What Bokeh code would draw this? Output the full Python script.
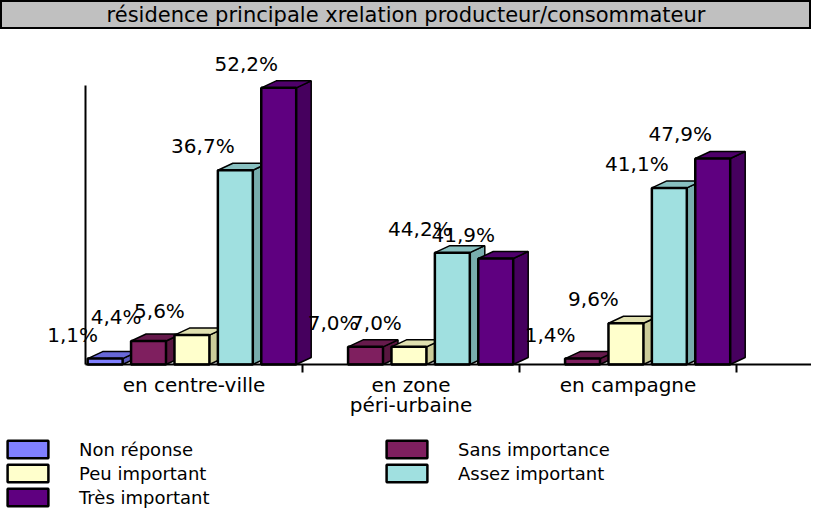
from bokeh.plotting import figure
from bokeh.models import ColumnDataSource, FixedTicker, Legend, LegendItem, Label, Range1d
from bokeh.layouts import column
from bokeh.embed import file_html
from bokeh.resources import INLINE
from bokeh.core.properties import value

FONT = "DejaVu Sans"

# ---------------- data ----------------
title_text = "résidence principale xrelation producteur/consommateur"
categories = ["en centre-ville", "en zone\npéri-urbaine", "en campagne"]
series = ["Non réponse", "Sans importance", "Peu important", "Assez important", "Très important"]

# bar heights (number of answers) per category
non_reponse = [1, 0, 0]
sans_importance = [4, 3, 1]
peu_important = [5, 3, 7]
assez_important = [33, 19, 30]
tres_important = [47, 18, 35]

# percentage labels shown above the bars
lbl_non_reponse = ["1,1%", "", ""]
lbl_sans_importance = ["4,4%", "7,0%", "1,4%"]
lbl_peu_important = ["5,6%", "7,0%", "9,6%"]
lbl_assez_important = ["36,7%", "44,2%", "41,1%"]
lbl_tres_important = ["52,2%", "41,9%", "47,9%"]

values = [non_reponse, sans_importance, peu_important, assez_important, tres_important]
labels = [lbl_non_reponse, lbl_sans_importance, lbl_peu_important, lbl_assez_important, lbl_tres_important]

# ---------------- styles ----------------
front_colors = ["#8080FF", "#7F1F5F", "#FFFFCC", "#A0E0E0", "#5F0080"]
top_colors = ["#6868D8", "#661A4C", "#E0E0B0", "#88C0C0", "#4E006A"]
side_colors = ["#5858B8", "#58163F", "#CCCC99", "#78ADAD", "#46005E"]

W, H = 811, 508
TH = 29
MH = H - TH
PX_X = 217.0     # px per category
PX_Y = 5.887     # px per count
X0 = 85          # position of value axis from figure left (px)
Y0 = 144         # position of baseline from figure bottom (px)
SLOT = 0.2
BAR_OFF = 0.01
BAR_W = 0.161
DX = 15 / PX_X
DY = 7 / PX_Y
AXIS_TOP = 47.4

x_end = (W - X0) / PX_X
p = figure(width=W, height=MH, x_range=Range1d(-X0 / PX_X, x_end),
           y_range=Range1d(-Y0 / PX_Y, (MH - Y0) / PX_Y),
           toolbar_location=None, output_backend="svg", min_border=0)
p.outline_line_color = None
p.xgrid.visible = False
p.ygrid.visible = False

front = dict(left=[], right=[], top=[], bottom=[], color=[])
tops = dict(xs=[], ys=[], color=[])
sides = dict(xs=[], ys=[], color=[])
lab = dict(x=[], y=[], text=[])
first_idx = {}
for g in range(len(categories)):
    for i in range(len(series)):
        v = values[i][g]
        if v <= 0:
            continue
        l = g + i * SLOT + BAR_OFF
        r = l + BAR_W
        if i not in first_idx:
            first_idx[i] = len(front["left"])
        front["left"].append(l); front["right"].append(r)
        front["top"].append(v); front["bottom"].append(0)
        front["color"].append(front_colors[i])
        tops["xs"].append([l, l + DX, r + DX, r])
        tops["ys"].append([v, v + DY, v + DY, v])
        tops["color"].append(top_colors[i])
        sides["xs"].append([r, r + DX, r + DX, r])
        sides["ys"].append([0, DY, v + DY, v])
        sides["color"].append(side_colors[i])
        if labels[i][g]:
            lab["x"].append(l); lab["y"].append(v); lab["text"].append(labels[i][g])

p.patches("xs", "ys", source=ColumnDataSource(sides), fill_color="color",
          line_color="black", line_width=1.5)
p.patches("xs", "ys", source=ColumnDataSource(tops), fill_color="color",
          line_color="black", line_width=1.5)
fr = p.quad(left="left", right="right", top="top", bottom="bottom",
            source=ColumnDataSource(front), fill_color="color",
            line_color="black", line_width=2.5)

p.text(x="x", y="y", text="text", source=ColumnDataSource(lab),
       text_font=value(FONT), text_font_size=value("20px"), text_color="black",
       text_align="center", text_baseline="alphabetic", x_offset=-15, y_offset=-24)

# axes
xa = p.xaxis[0]
xa.fixed_location = 0
xa.bounds = (0, x_end)
xa.ticker = FixedTicker(ticks=[0.5, 1.5, 2.5], minor_ticks=[1, 2, 3])
xa.major_label_overrides = {0.5: categories[0], 1.5: categories[1], 2.5: categories[2]}
xa.major_tick_line_color = None
xa.major_tick_in = 0
xa.major_tick_out = 0
xa.minor_tick_line_color = "black"
xa.minor_tick_line_width = 2
xa.minor_tick_in = 0
xa.minor_tick_out = 8
xa.axis_line_color = "black"
xa.axis_line_width = 2
xa.major_label_standoff = 0
xa.major_label_text_font = FONT
xa.major_label_text_font_size = "20px"
xa.major_label_text_line_height = 0.85
xa.major_label_text_color = "black"

ya = p.yaxis[0]
ya.fixed_location = 0
ya.bounds = (0, AXIS_TOP)
ya.ticker = FixedTicker(ticks=[])
ya.major_tick_line_color = None
ya.minor_tick_line_color = None
ya.major_label_text_font_size = "0px"
ya.axis_line_color = "black"
ya.axis_line_width = 2

legend = Legend(items=[LegendItem(label=series[i], renderers=[fr], index=first_idx[i])
                       for i in range(len(series))],
                location=(2, 0), orientation="horizontal", ncols=2,
                border_line_color=None, background_fill_alpha=0,
                padding=0, margin=0, spacing=2,
                glyph_width=51, glyph_height=22, label_standoff=26,
                label_width=300, label_height=18,
                label_text_font=FONT, label_text_font_size="18px",
                label_text_color="black")
p.add_layout(legend)

# title box
t = figure(width=W, height=TH, x_range=(0, 1), y_range=(0, 1),
           toolbar_location=None, output_backend="svg", min_border=0,
           x_axis_location=None, y_axis_location=None)
t.grid.visible = False
t.background_fill_color = "#C0C0C0"
t.outline_line_color = "black"
t.outline_line_width = 3
t.add_layout(Label(x=0.5, y=0.5, text=title_text, text_align="center",
                   text_baseline="middle", text_font=FONT, text_font_size="21px",
                   text_color="black"))

layout = column(t, p, spacing=0)
open("out.html", "w").write(file_html(layout, INLINE))
